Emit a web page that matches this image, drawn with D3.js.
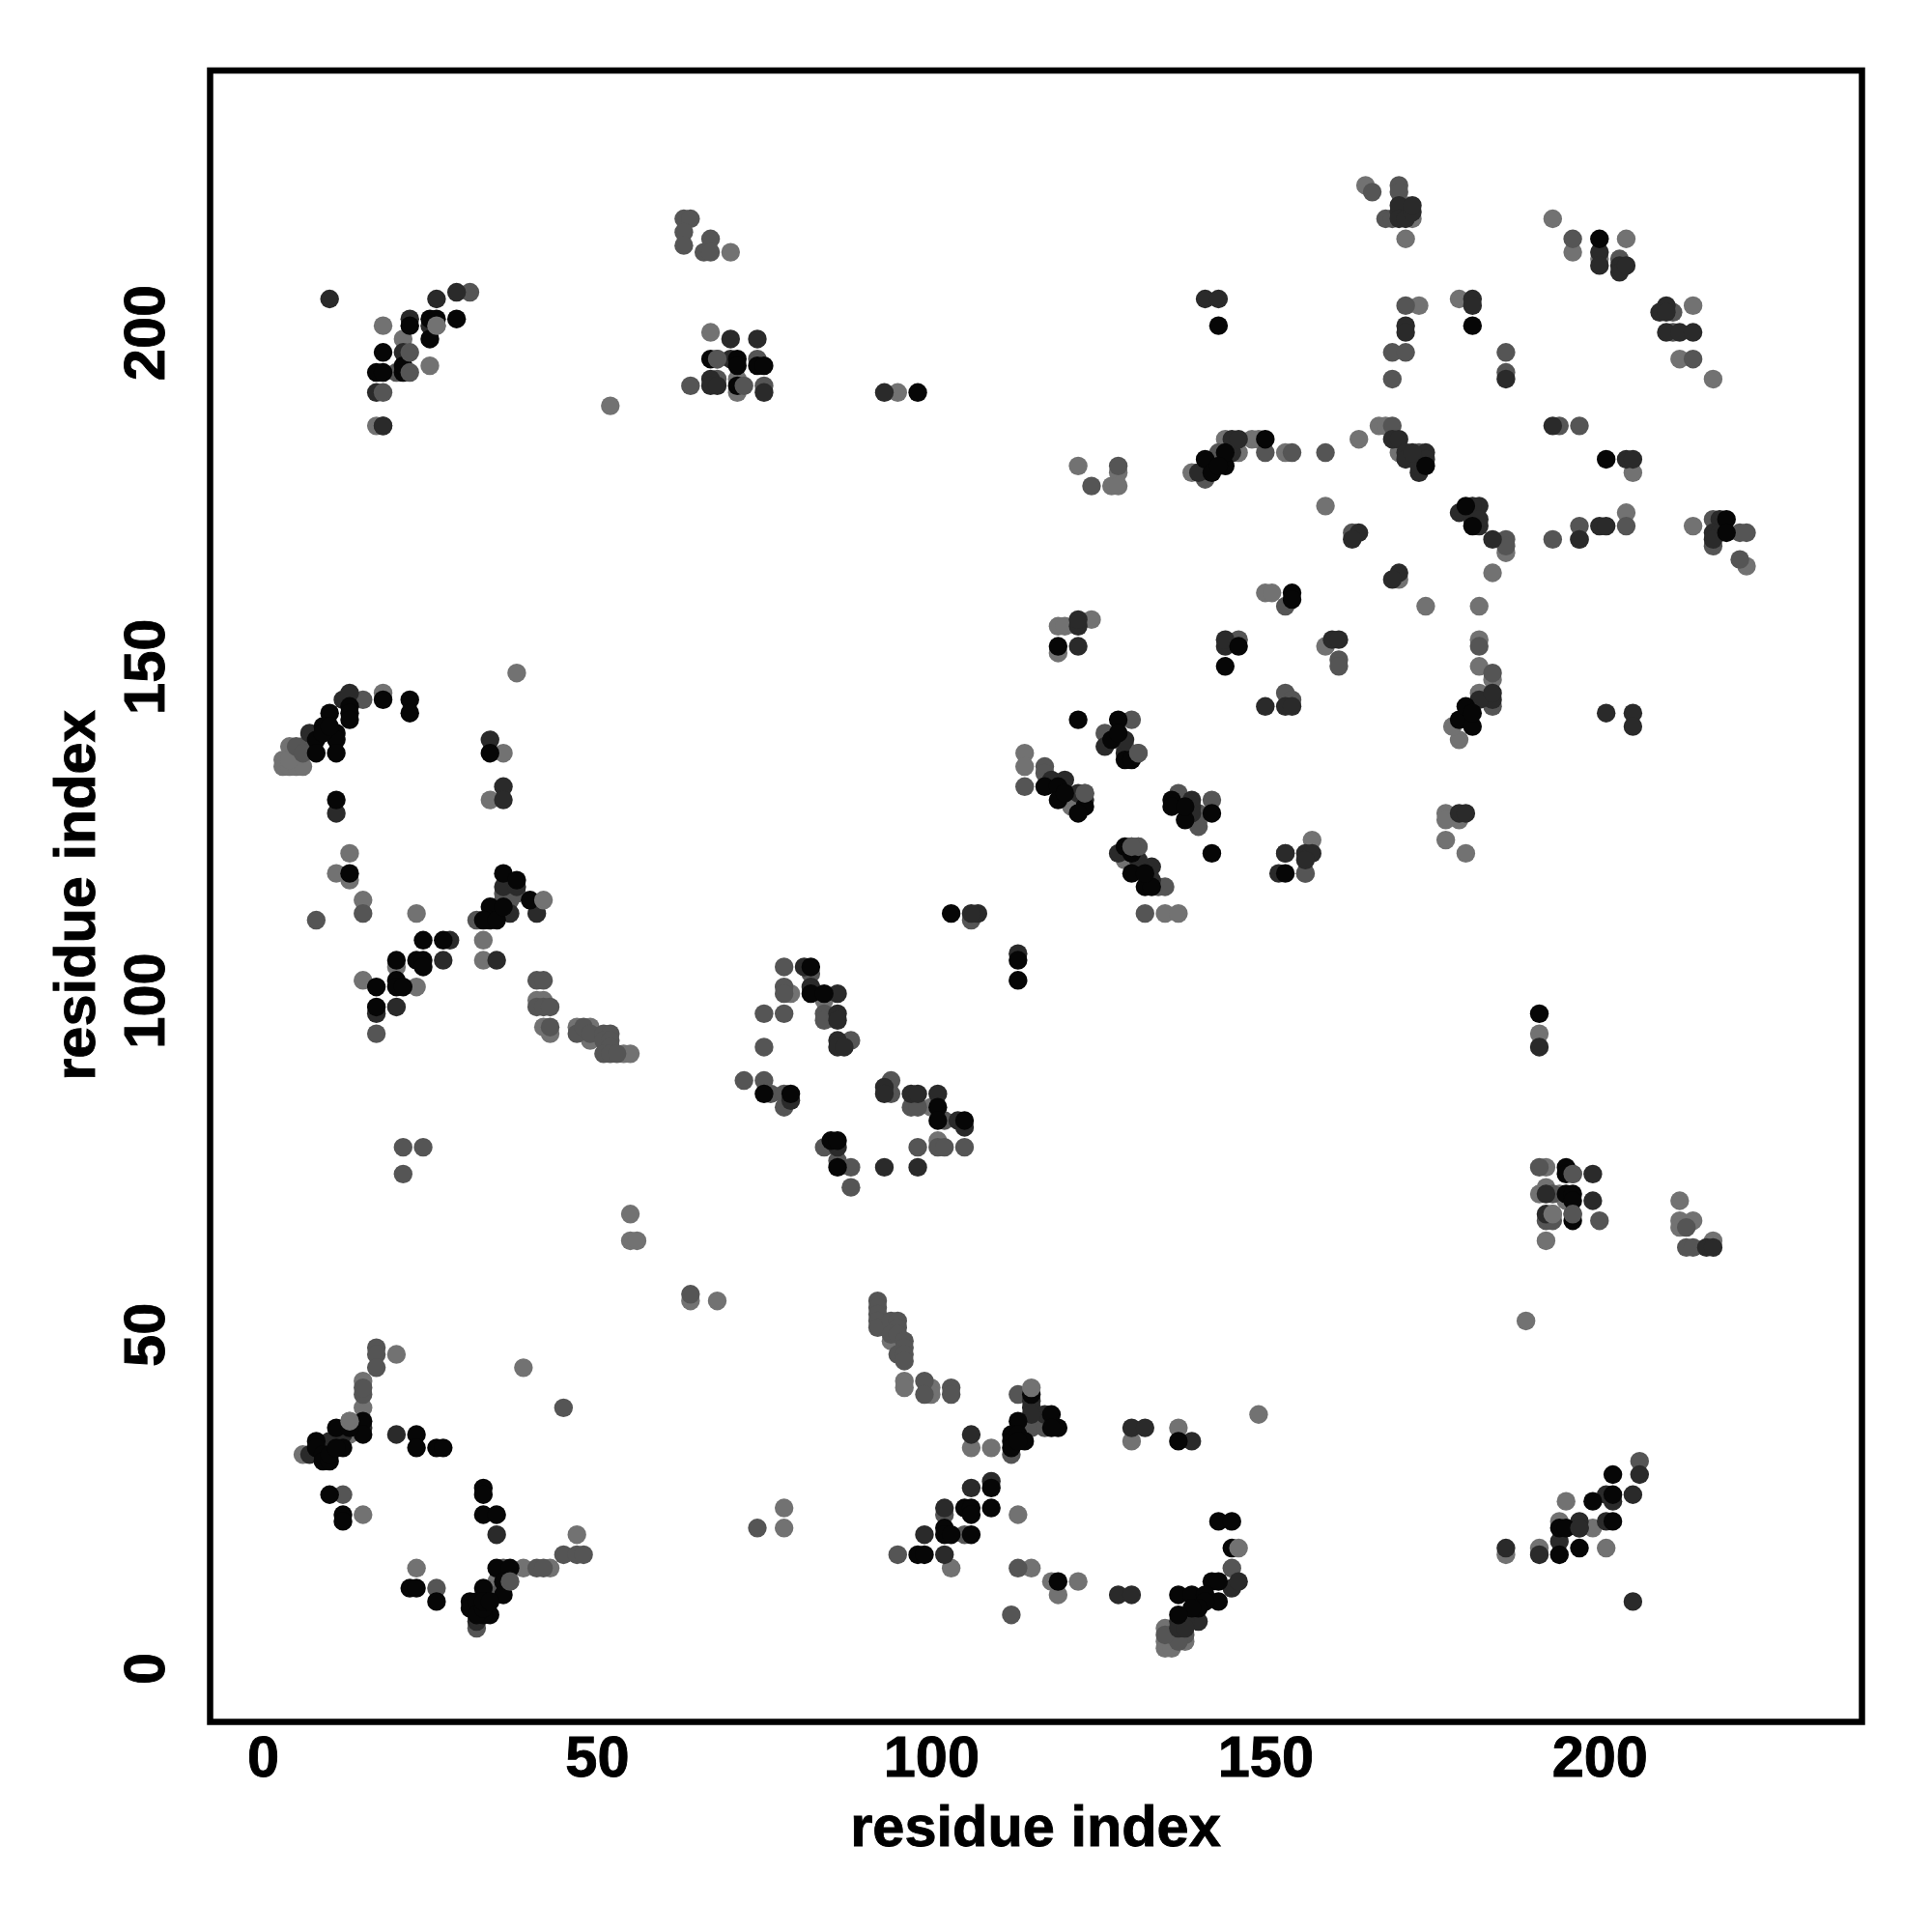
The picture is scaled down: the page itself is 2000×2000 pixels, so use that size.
<!DOCTYPE html>
<html><head><meta charset="utf-8">
<script src="https://cdn.jsdelivr.net/npm/d3@7"></script>
<style>html,body{margin:0;padding:0;background:#fff}svg{display:block}</style>
</head><body><svg id="c" width="2000" height="2000"></svg>
<script>
const xTickValues=[0,50,100,150,200];
const yTickValues=[0,50,100,150,200];
const axisLabel="residue index";
const shadeGreys=["#060606","#2a2a2a","#555555","#727272"];
const blackPairs=[[15,37],[15,35],[11,36],[12,33],[8,34],[8,33],[9,32],[9,31],[10,31],[10,32],[11,33],[13,36],[23,35],[23,33],[26,33],[27,33],[10,26],[12,23],[12,22],[33,27],[33,26],[33,23],[35,23],[22,12],[23,12],[26,10],[35,15],[37,15],[36,13],[36,11],[33,12],[31,10],[31,9],[32,10],[34,8],[33,8],[32,8],[33,9],[33,10],[34,10],
[115,41],[118,38],[119,36],[118,36],[113,37],[112,35],[112,34],[112,33],[113,35],[114,34],[113,34],[109,27],[105,24],[106,24],[106,23],[109,24],[102,21],[102,20],[103,20],[106,20],[98,17],[99,17],[119,13],[137,34],[143,22],[145,22],[145,18],[142,13],[143,13],[137,11],[139,11],[141,11],[143,10],[141,10],[140,9],[139,9],[137,8],
[18,145],[22,145],[22,143],[13,144],[10,143],[13,143],[13,142],[9,141],[11,140],[11,139],[11,137],[8,139],[8,137],[9,140],[10,141],[34,137],[11,130],[13,119],[36,119],[38,118],[40,115],[34,114],[34,112],[33,112],[35,112],[36,114],[24,109],[27,109],[20,106],[23,106],[24,106],[24,105],[17,102],[20,103],[20,102],[21,102],[17,99],
[82,105],[82,101],[84,101],[75,86],[79,86],[101,84],[101,82],[105,82],[85,79],[86,79],[86,75],[117,132],[119,132],[119,130],[123,129],[122,128],[120,131],[129,136],[130,136],[136,130],[136,129],[138,127],[142,128],[138,129],[142,122],[129,123],[130,122],[130,119],[132,117],[133,117],[132,119],[153,119],
[179,142],[181,141],[180,144],[181,143],[180,174],[181,171],[144,180],[144,182],[141,181],[142,179],[143,180],[150,184],[174,180],[154,161],[201,181],[181,201],[200,214],[154,160],
[17,194],[18,194],[18,197],[21,194],[21,195],[22,201],[25,199],[25,202],[26,202],[29,202],[67,196],[71,196],[71,195],[74,195],[75,195],[71,192],[195,75],[195,74],[195,71],[196,71],[196,70],[196,67],
[202,29],[202,26],[199,25],[202,22],[194,21],[195,21],[197,18],[194,17],[191,98],[98,191],[103,113],[113,106],[113,103],[119,153],[122,142],[128,142],[127,139],[128,140],[144,150],[146,153],[143,201],[219,172],[219,170]];
const darkPairs=[[20,35],[35,20],[7,32],[10,34],[12,35],[15,36],[32,7],[106,35],[109,28],[106,27],[102,24],[99,20],[102,17],[115,40],[115,39],[117,38],[115,38],[128,11],[130,11],[130,36],[132,36],[139,34],[145,12],[146,13],[140,7],[138,7],[137,7],[137,6],[138,6],
[12,145],[13,146],[7,140],[34,139],[36,132],[36,130],[11,128],[36,117],[38,117],[37,113],[41,113],[28,109],[27,106],[35,106],[17,98],[20,99],[81,105],[82,102],[86,101],[86,98],[86,97],[86,94],[86,93],[87,93],[93,87],[93,86],[97,86],[98,86],[101,86],[104,82],[105,81],[79,85],[86,78],[93,75],[98,75],[118,133],[120,133],[122,131],[123,130],[139,130],[139,129],[139,128],[128,122],[133,120],[133,118],[131,121],[129,137],[129,139],[153,122],[156,122],[157,122],[156,121],[152,119],[150,144],[153,144],[154,144],[184,145],[182,145],[184,146],[182,171],[182,174],[181,174],[179,173],[181,172],[182,172],[184,169],[197,169],[200,171],[201,171],[201,143],[205,143],[205,141],[218,172],[217,170],[218,170],[217,169],
[140,179],[145,182],[145,184],[146,184],[169,184],[170,184],[171,182],[171,181],[174,182],[174,181],[173,179],[173,180],[172,182],[164,170],[163,169],[170,164],[169,163],[193,186],[204,181],[205,181],[170,218],[170,219],[170,217],[171,217],[172,218],[172,219],[200,212],[200,210],[203,210],[203,209],[204,210],[171,201],[171,200],[181,205],[181,204],[186,193],[210,204],[209,203],[210,203],[210,200],[212,200],[214,200],
[18,186],[17,191],[21,197],[22,202],[25,201],[26,205],[29,206],[70,199],[74,199],[70,196],[67,193],[67,192],[68,192],[75,191],[199,74],[192,71],[199,70],[192,68],[216,63],[217,63],[206,29],[205,26],[201,26],[202,25],[201,22],[197,22],[197,21],[194,19],[191,17],[186,18],[205,10],[191,93],[93,191],[107,113],[113,107],[10,205],[141,205],[143,205],[122,156],[122,157],[122,153],[126,138],[144,153],[144,154],[160,154],[161,154],[179,128],[180,128],[106,113]];
const midPairs=[[17,48],[17,47],[17,45],[15,41],[15,42],[45,17],[47,17],[48,17],[41,15],[42,15],[36,15],[35,11],[26,12],[12,26],[32,6],[45,39],
[92,55],[92,54],[92,53],[92,52],[92,51],[94,52],[95,52],[95,51],[94,50],[95,50],[96,49],[96,48],[95,47],[96,47],[96,46],[99,43],[99,41],[103,42],[103,41],[113,41],[115,36],[117,36],[112,32],[113,15],[95,17],[105,20],[102,23],[112,8],[145,15],[138,5],[136,5],[137,4],[135,5],
[15,145],[6,138],[5,138],[7,138],[6,137],[38,116],[36,116],[36,115],[37,115],[15,113],[8,112],[17,95],[41,103],[42,103],[41,99],[42,99],[43,99],[43,96],[32,112],[47,95],[48,96],[49,95],[51,95],[52,95],[51,94],[52,94],[52,93],[51,92],[52,92],[53,92],
[78,105],[82,104],[78,102],[78,101],[75,98],[78,98],[84,98],[84,97],[75,93],[88,94],[72,88],[75,88],[76,86],[78,86],[78,84],[94,88],[94,86],[97,84],[98,84],[102,82],[101,78],[102,78],[98,78],[105,78],[84,78],[86,76],[88,75],[88,72],[114,132],[117,135],[117,134],[123,131],[137,131],[140,128],[140,126],[142,130],[130,123],[131,123],[134,117],[135,117],[132,113],[131,137],[156,119],[153,122],
[182,153],[184,149],[184,144],[186,169],[186,168],[193,169],[197,171],[197,169],[204,171],[217,172],[217,168],[221,170],[222,170],[221,166],[141,178],[143,182],[150,182],[154,182],[159,182],[169,186],[173,182],[163,170],[194,186],[197,186],[166,221],[170,222],[170,221],[168,217],[169,217],[196,214],[203,211],[171,204],[169,197],[171,197],[169,193],[186,197],[186,194],[211,203],[211,200],[214,196],
[20,194],[64,192],[68,193],[74,196],[68,196],[75,192],[191,75],[196,74],[193,71],[196,68],[192,67],[193,67],[200,67],[213,66],[213,63],[214,63],[206,31],[63,217],[64,217],[63,215],[63,213],[66,212],[67,214],[67,212],[64,56],[74,21],[21,78],[24,78],[21,74],[124,177],[128,180],[126,140],[129,138],[130,142],[161,151],[161,150],[146,154],[153,146],[154,145],[153,159],[106,112],[31,206]];
const greyPairs=[[20,47],[15,43],[15,39],[13,37],[6,32],[13,35],[15,23],[23,15],[39,45],[47,20],[39,15],[43,15],[35,13],
[96,43],[96,42],[100,42],[100,41],[94,49],[106,33],[109,33],[113,23],[103,15],[115,15],[118,13],[122,13],[119,11],[130,34],[137,36],[149,38],[135,6],[135,4],[135,3],[136,3],[138,4],
[38,149],[18,146],[4,138],[3,136],[3,135],[4,135],[5,135],[6,135],[4,136],[36,137],[34,130],[13,122],[11,119],[13,118],[15,115],[23,113],[15,103],[23,102],[20,105],[33,109],[33,106],[41,100],[42,100],[42,96],[43,95],[47,96],[49,96],[49,94],[54,92],[55,92],
[79,101],[84,100],[100,84],[101,79],[114,137],[114,135],[121,129],[140,127],[129,121],[135,113],[137,113],[157,124],[156,119],[177,128],[177,127],[179,127],[177,124],[180,122],[179,139],[178,141],[182,146],[184,148],[182,150],[182,154],[182,159],[174,159],[184,164],[186,167],[204,173],[205,179],[214,171],[222,165],
[139,179],[144,184],[146,182],[148,184],[149,184],[153,182],[159,174],[164,184],[167,186],[168,186],[170,182],[150,161],[151,161],[170,163],[165,222],[172,217],[171,219],[171,214],[193,217],[196,212],[200,211],[204,214],[173,204],[179,205],[212,196],[214,204],[217,193],
[17,186],[18,201],[21,199],[25,195],[26,201],[52,189],[67,200],[71,193],[71,191],[192,75],[191,71],[192,72],[194,71],[195,70],[193,68],[192,64],[189,52],[212,70],[212,67],[214,67],[212,66],[217,64],[195,25],[199,21],[194,22],[201,18],[191,18],[186,17],[191,95],[95,191],[55,68],[55,64],[56,64],[64,55],[68,55],[78,24],[78,21],[70,212],[122,180],[127,177],[128,179],[128,177],[119,156],[120,156],[124,157],[119,152],[159,153]];
const overlayTriples=[[146,18,3],[115,42,3],[42,115,3],[13,37,3],[37,13,2],[22,197,2],[22,194,2],[26,201,3],[18,191,2],[18,186,1],[196,74,2],[196,68,2],[193,68,3],[72,192,2],[68,196,2],[131,137,2],[123,131,2],[131,123,2],[130,123,2],[197,21,1]];

const svg=d3.select("#c");
const x=d3.scaleLinear().domain([-7.95,239.2]).range([217,1927]);
const y=d3.scaleLinear().domain([-7.95,239.2]).range([1782,73]);
const font="'Liberation Sans',Arial,sans-serif";
const layers=[[greyPairs,3],[midPairs,2],[darkPairs,1],[blackPairs,0]];
const pts=[];
layers.forEach(([arr,s])=>arr.forEach(p=>pts.push([p[0],p[1],s])));
overlayTriples.forEach(p=>pts.push(p));
svg.append("g").selectAll("circle").data(pts).join("circle")
 .attr("cx",d=>x(d[0])).attr("cy",d=>y(d[1])).attr("r",9.7)
 .attr("fill",d=>shadeGreys[d[2]]);
svg.append("rect").attr("x",217.5).attr("y",73).attr("width",1710).attr("height",1709.5)
 .attr("fill","none").attr("stroke","#000").attr("stroke-width",6.5);
const gx=svg.append("g").attr("transform","translate(0,1782)")
 .call(d3.axisBottom(x).tickValues(xTickValues).tickSize(0).tickPadding(15));
const gy=svg.append("g").attr("transform","translate(217,0)")
 .call(d3.axisLeft(y).tickValues(yTickValues).tickSize(0));
gx.select(".domain").remove();gy.select(".domain").remove();
const styleText=s=>s.attr("font-family",font).attr("font-weight","bold").attr("font-size",59.5)
 .attr("fill","#000").attr("stroke","#000").attr("stroke-width",0.9);
gx.selectAll("text").call(styleText);
gy.selectAll("text").call(styleText)
 .attr("text-anchor","middle").attr("dy",0).attr("x",0).attr("y",0)
 .attr("transform","translate(-47,0) rotate(-90)");
svg.append("text").attr("x",1072).attr("y",1911).attr("text-anchor","middle").call(styleText).text(axisLabel);
svg.append("text").attr("transform","translate(98,927) rotate(-90)").attr("text-anchor","middle").call(styleText).text(axisLabel);
</script></body></html>
